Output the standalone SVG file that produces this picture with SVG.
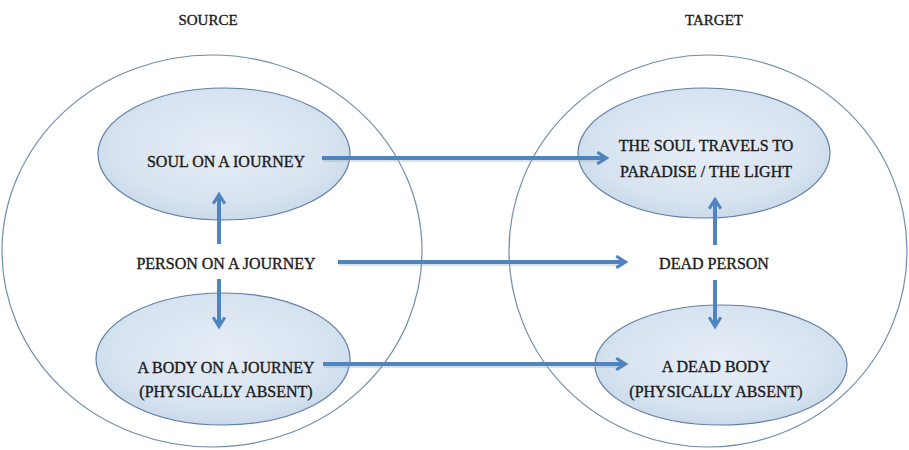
<svg xmlns="http://www.w3.org/2000/svg" width="909" height="450" viewBox="0 0 909 450">
<style>
.big{fill:#ffffff;stroke:#6f8cab;stroke-width:1.2}
.inner{fill:url(#g);stroke:#5f80a6;stroke-width:1.2}
.t{font-family:"Liberation Serif","Times New Roman",serif;font-size:16px;fill:#1a1a1a;stroke:#1a1a1a;stroke-width:0.35;text-anchor:middle}
.h{font-size:15px}
.a{stroke:#4f84bf;stroke-width:4;fill:none;marker-end:url(#ah)}
.s{stroke:#9aa8b8;stroke-opacity:0.35;stroke-width:4;fill:none}
</style>
<defs>
<radialGradient id="g" cx="50%" cy="45%" r="60%">
<stop offset="0" stop-color="#e6eef7"/>
<stop offset="0.7" stop-color="#d7e3f0"/>
<stop offset="1" stop-color="#c6d6e8"/>
</radialGradient>
<marker id="ah" viewBox="0 0 12 12" refX="9" refY="6" markerWidth="3.5" markerHeight="3.5" orient="auto" markerUnits="strokeWidth">
<path d="M1.5,1 L9.5,6 L1.5,11" fill="none" stroke="#4f84bf" stroke-width="2.6" stroke-linejoin="miter"/>
</marker>
</defs>
<rect width="909" height="450" fill="#ffffff"/>
<g id="source">
<text class="t h" x="208" y="25">SOURCE</text>
<ellipse class="big" cx="212" cy="251" rx="210" ry="196"/>
</g>
<g id="target">
<text class="t h" x="714" y="25">TARGET</text>
<ellipse class="big" cx="708" cy="251" rx="199" ry="196"/>
</g>
<g id="soul-journey">
<ellipse class="inner" cx="224" cy="154" rx="126" ry="66"/>
<text class="t" x="226" y="167">SOUL ON A IOURNEY</text>
</g>
<g id="person-journey">
<text class="t" x="226" y="269">PERSON ON A JOURNEY</text>
</g>
<g id="body-journey">
<ellipse class="inner" cx="223" cy="359" rx="127" ry="66"/>
<text class="t" x="226" y="373">A BODY ON A JOURNEY</text>
<text class="t" x="226" y="397">(PHYSICALLY ABSENT)</text>
</g>
<g id="soul-travels">
<ellipse class="inner" cx="704" cy="153" rx="126" ry="65"/>
<text class="t" x="706" y="151">THE SOUL TRAVELS TO</text>
<text class="t" x="706" y="177">PARADISE / THE LIGHT</text>
</g>
<g id="dead-person">
<text class="t" x="714" y="269">DEAD PERSON</text>
</g>
<g id="dead-body">
<ellipse class="inner" cx="721" cy="365" rx="126" ry="60"/>
<text class="t" x="716" y="372">A DEAD BODY</text>
<text class="t" x="716" y="397">(PHYSICALLY ABSENT)</text>
</g>
<g id="connectors">
<line class="s" x1="323" y1="160" x2="604" y2="160"/>
<line class="s" x1="339" y1="264" x2="623" y2="264"/>
<line class="s" x1="324" y1="366" x2="623" y2="366"/>
<line class="a" x1="322" y1="158" x2="606" y2="158"/>
<line class="a" x1="338" y1="262" x2="625" y2="262"/>
<line class="a" x1="323" y1="364" x2="625" y2="364"/>
<line class="a" x1="219" y1="244" x2="219" y2="195"/>
<line class="a" x1="219" y1="279" x2="219" y2="326"/>
<line class="a" x1="715" y1="245" x2="715" y2="200"/>
<line class="a" x1="715" y1="280" x2="715" y2="326"/>
</g>
</svg>
